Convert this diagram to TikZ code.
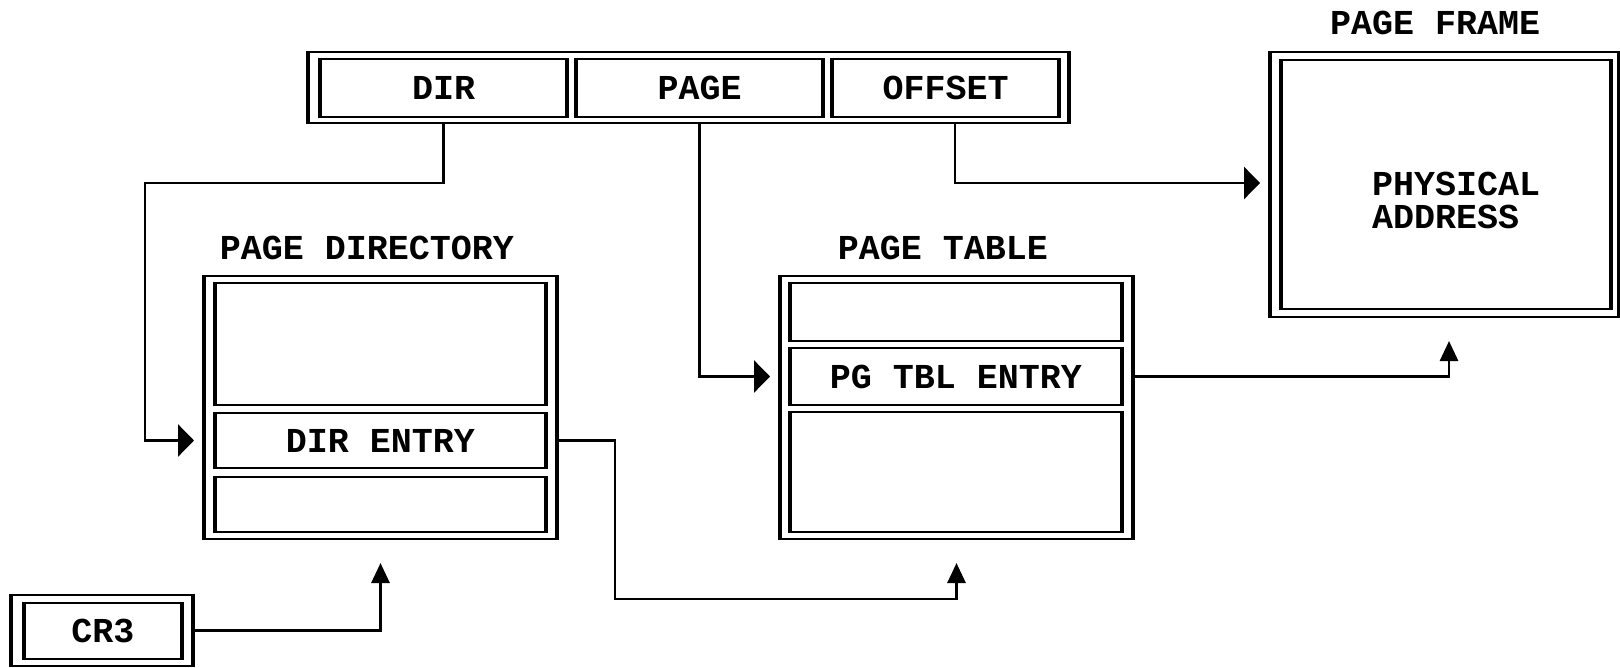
\documentclass[tikz,border=0pt]{standalone}
\usepackage{fontspec}
\newfontfamily\diafont{Liberation Mono}
\usetikzlibrary{arrows.meta,fit}
\begin{document}
\begin{tikzpicture}[x=0.5pt,y=-0.5pt,
  font=\diafont\bfseries\fontsize{17.5pt}{16.5pt}\selectfont,
  box/.style={draw, line width=1.1pt, inner sep=0pt, outer sep=0pt, rectangle,
    append after command={\pgfextra{\draw[line width=2.2pt]
      ([yshift=0.55pt]\tikzlastnode.north west) -- ([yshift=-0.55pt]\tikzlastnode.south west)
      ([yshift=0.55pt]\tikzlastnode.north east) -- ([yshift=-0.55pt]\tikzlastnode.south east);}}},
  conn/.style={line width=1.4pt},
  harr/.style={-{Triangle[length=8pt,width=16pt]}, shorten >=5pt},
  varr/.style={-{Triangle[length=10pt,width=9pt]}, shorten >=12pt}]
\useasboundingbox (0,0) rectangle (1620,668);

% linear address
\node[box, fit={(308,52)(1069,123)}] (addr) {};
\node[box, fit={(320,59)(567,117)}, label={center:DIR}] (dir) {};
\node[box, fit={(576,59)(823,117)}, label={center:PAGE}] (page) {};
\node[box, fit={(832,59)(1059,117)}, label={center:OFFSET}] (offs) {};

% page directory
\node (pdirlbl) at (367,248) {PAGE DIRECTORY};
\node[box, fit={(204,276)(557,539)}] (pdir) {};
\node[box, fit={(215,283)(546,405)}] (dtop) {};
\node[box, fit={(215,413)(546,468)}, label={center:DIR ENTRY}] (dentry) {};
\node[box, fit={(215,477)(546,532)}] (dbot) {};

% page table
\node (ptablbl) at (943,248) {PAGE TABLE};
\node[box, fit={(780,276)(1133,539)}] (ptab) {};
\node[box, fit={(790,283)(1122,341)}] (ttop) {};
\node[box, fit={(790,348)(1122,405)}, label={center:PG TBL ENTRY}] (ptentry) {};
\node[box, fit={(790,412)(1122,532)}] (tbot) {};

% page frame
\node (framelbl) at (1435,23) {PAGE FRAME};
\node[box, fit={(1270,52)(1619,317)}] (frame) {};
\node[box, fit={(1281,60)(1611,309)}] (framein) {};
\node[align=left] (pa) at (1456,200) {PHYSICAL\\ADDRESS};

% CR3
\node[box, fit={(11,595)(193,666)}] (cr3) {};
\node[box, fit={(24,603)(182,659)}, label={center:CR3}] (cr3in) {};

% helper coordinates
\coordinate (k1) at (145,183);
\coordinate (k2) at (955,183);
\coordinate (k3) at (615,599);
\coordinate (k4) at (1449,340);

% connectors
\draw[conn,harr] (dir |- addr.south) |- (k1) |- (pdir.west |- dentry);
\draw[conn,harr] (page |- addr.south) |- (ptab.west |- ptentry);
\draw[conn,harr] (k2 |- addr.south) |- (frame.west |- k2);
\draw[conn,varr] (pdir.east |- dentry) -| (k3) -| (ptab.south);
\draw[conn,varr] (ptab.east |- ptentry) -| (k4 |- frame.south);
\draw[conn,varr] (cr3.east) -| (pdir.south);
\end{tikzpicture}
\end{document}
